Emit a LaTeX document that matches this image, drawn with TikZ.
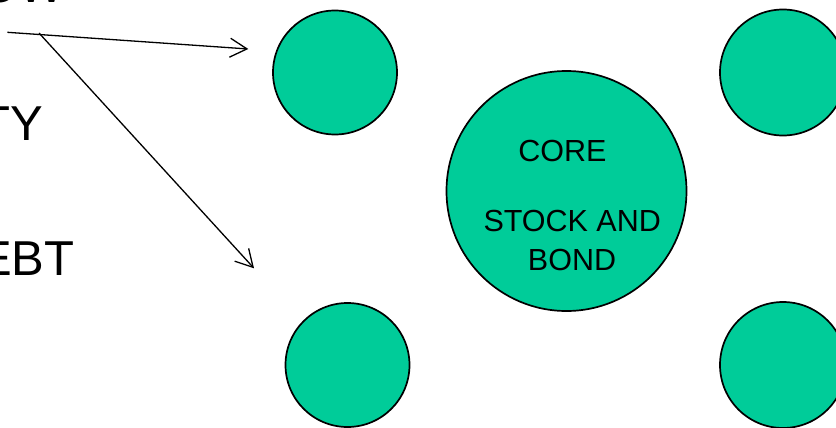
\documentclass[tikz,border=0pt]{standalone}
\usepackage{fontspec}
\setmainfont{Liberation Sans}
\usetikzlibrary{arrows.meta}
\definecolor{ballgreen}{HTML}{00CC99}
\begin{document}
\begin{tikzpicture}[x=1pt,y=-1pt,
  ball/.style={circle, draw=black, line width=1.7pt, fill=ballgreen, inner sep=0pt},
  bigtext/.style={anchor=base west, inner sep=0pt, font=\fontsize{49}{58}\selectfont},
  coretext/.style={anchor=base, inner sep=0pt, font=\fontsize{30.5}{36}\selectfont},
  link/.style={line width=1.3pt, -{Straight Barb[length=17pt,width=19pt]}}]
\useasboundingbox (0,0) rectangle (836,428);
\clip (0,0) rectangle (836,428);
% balls
\node[ball, minimum size=124pt] (tl) at (335,72.5) {};
\node[ball, minimum size=126pt] (tr) at (783,72.5) {};
\node[ball, minimum size=124pt] (bl) at (347.5,365) {};
\node[ball, minimum size=126pt] (br) at (783,365) {};
\node[ball, minimum size=240pt] (core) at (566.5,191) {};
% core texts
\node[coretext] (coreA) at (562.5,161.7) {CORE};
\node[coretext] (coreB) at (572.2,231.7) {STOCK AND};
\node[coretext] (coreC) at (572,270) {BOND};
% left texts
\node[bigtext] (t1) at (-20,3) {OW};
\node[bigtext] (t2) at (-20,140) {TY};
\node[bigtext] (t3) at (-21,275) {EBT};
% arrows
\coordinate (s1) at (7.3,32.3);
\coordinate (s2) at (39,33);
\coordinate (e1) at (248.3,49);
\coordinate (e2) at (254,268.3);
\draw[link] (s1) -- (e1);
\draw[link] (s2) -- (e2);
\end{tikzpicture}
\end{document}
